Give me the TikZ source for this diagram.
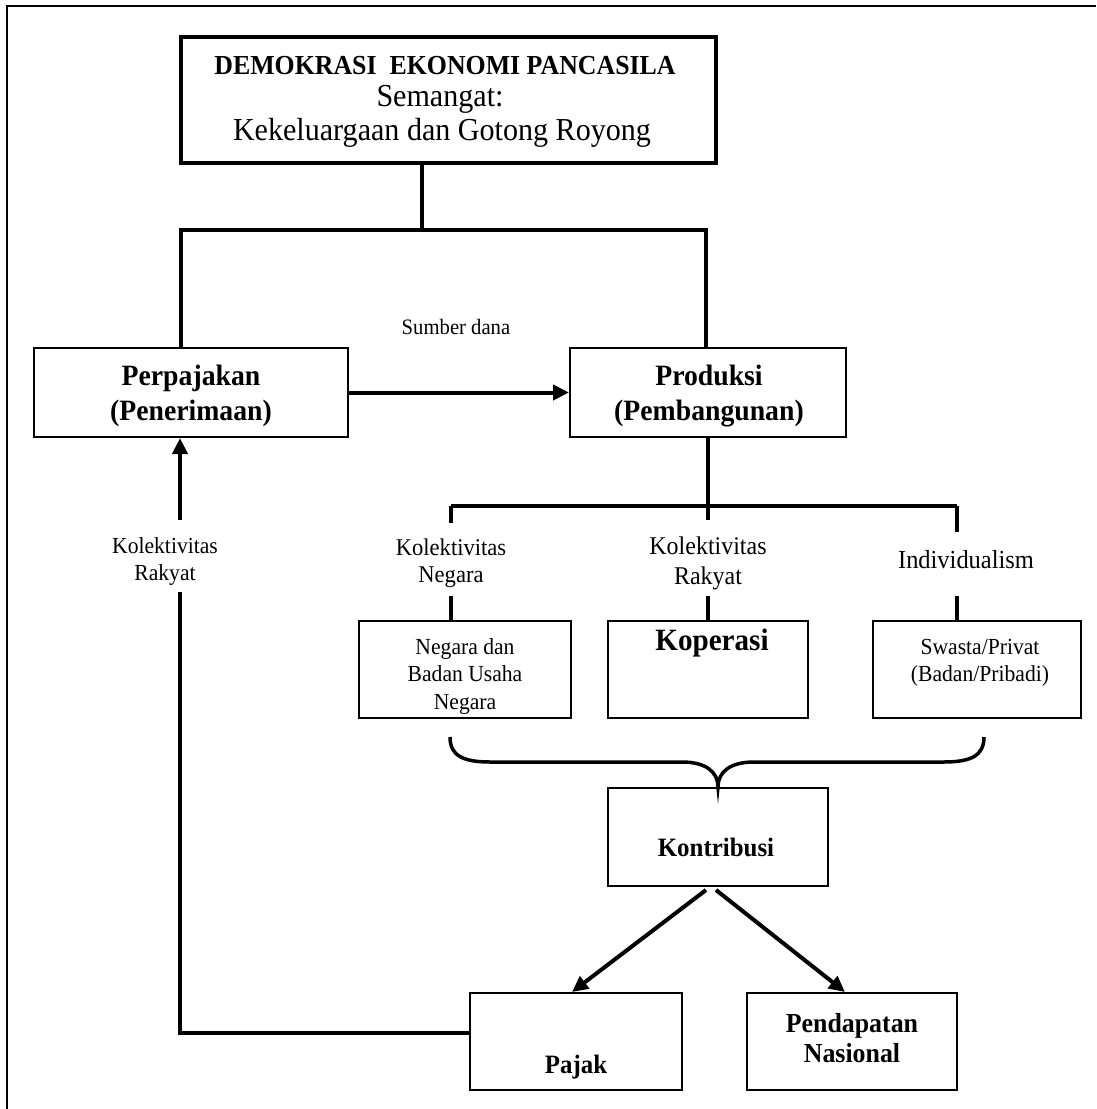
\documentclass[tikz,border=0pt]{standalone}
\usepackage{fontspec}
\setmainfont{Liberation Serif}[FakeStretch=0.94]
\usetikzlibrary{arrows.meta}
\begin{document}
\begin{tikzpicture}[x=1pt,y=-1pt,
  box/.style={draw, line width=2pt, inner sep=0pt},
  conn/.style={line width=4pt},
  arr/.style={line width=4pt, -{Triangle[length=16pt,width=15pt]}},
  txt/.style={inner sep=0pt, align=center},
  fs/.style n args={2}{font=\fontsize{#1}{#2}\selectfont},
  fb/.style n args={2}{font=\fontsize{#1}{#2}\selectfont\bfseries},
]
\useasboundingbox (0,0) rectangle (1096,1109);
\draw[line width=2pt] (7,1109) -- (7,5.5) -- (1096,5.5);

% boxes
\node[box, line width=4.5pt, minimum width=535pt, minimum height=126pt] (top) at (448.5,100) {};
\node[box, minimum width=314pt, minimum height=89pt] (perp) at (191,392.5) {};
\node[box, minimum width=276pt, minimum height=89pt] (prod) at (708,392.5) {};
\node[box, minimum width=212pt, minimum height=97pt] (neg) at (465,669.5) {};
\node[box, minimum width=200pt, minimum height=97pt] (kop) at (708,669.5) {};
\node[box, minimum width=208pt, minimum height=97pt] (swa) at (977,669.5) {};
\node[box, minimum width=220pt, minimum height=98pt] (kon) at (718,837) {};
\node[box, minimum width=212pt, minimum height=97pt] (paj) at (576,1041.5) {};
\node[box, minimum width=210pt, minimum height=97pt] (pen) at (852,1041.5) {};

% texts
\node[txt, fb={27.5}{30}, anchor=base] (t1) at (445,74) {DEMOKRASI\ \ EKONOMI PANCASILA};
\node[txt, fs={32}{33}, anchor=base] (t2) at (440,106) {Semangat:};
\node[txt, fs={32}{33}, anchor=base] (t3) at (442,140) {Kekeluargaan dan Gotong Royong};
\node[txt, fb={29.5}{35}] (tperp) at (191,396) {Perpajakan\\(Penerimaan)};
\node[txt, fb={29.5}{35}] (tprod) at (709,396) {Produksi\\(Pembangunan)};
\node[txt, fs={22}{25}] (tsd) at (456,327) {Sumber dana};
\node[txt, fs={23}{27}] (tkr) at (165,561) {Kolektivitas\\Rakyat};
\node[txt, fs={24}{27}] (tkn) at (451,563) {Kolektivitas\\Negara};
\node[txt, fs={25.5}{30}] (tkr2) at (708,563) {Kolektivitas\\Rakyat};
\node[txt, fs={26}{30}] (tind) at (966,560) {Individualism};
\node[txt, fs={23}{27.5}] (tneg) at (465,676) {Negara dan\\Badan Usaha\\Negara};
\node[txt, fb={31}{33}] (tkop) at (712,643) {Koperasi};
\node[txt, fs={23}{27}] (tswa) at (980,663) {Swasta/Privat\\(Badan/Pribadi)};
\node[txt, fb={26.5}{30}] (tkon) at (716,847) {Kontribusi};
\node[txt, fb={26.5}{30}] (tpaj) at (576,1067) {Pajak};
\node[txt, fb={27.5}{30}] (tpen) at (852,1038) {Pendapatan\\Nasional};

% top connectors
\coordinate (hm) at (422,230);
\coordinate (h1) at (181,230);
\coordinate (h2) at (706,230);
\draw[conn] (hm |- top.south) -- (hm);
\draw[conn] (h1 |- perp.north) -- (h1) -- (h2) -- (h2 |- prod.north);

% sumber dana arrow
\draw[arr] (perp.east) -- (prod.west);

% branch
\coordinate (bL) at (451,506);
\coordinate (bR) at (957,506);
\draw[conn] (bL) -- (bR);
\draw[conn] (prod.south) -- ++(0,82);
\draw[conn] (bL) -- ++(0,17);
\draw[conn] (bR) -- ++(0,26);
\draw[conn] (neg.north -| bL) -- ++(0,-24);
\draw[conn] (kop.north) -- ++(0,-24);
\draw[conn] (swa.north -| bR) -- ++(0,-24);

% brace
\coordinate (brL) at (450,737);
\coordinate (brR) at (984,737);
\draw[line width=3.5pt] (brL) .. controls (450,755) and (462,762) .. (490,762) -- (682,762)
  .. controls (706,762) and (718,772) .. (kon.north)
  .. controls (718,772) and (730,762) .. (754,762) -- (944,762)
  .. controls (972,762) and (984,755) .. (brR);

% kontribusi arrows
\draw[arr] ([xshift=-12pt,yshift=-3pt]kon.south) -- ([xshift=-4pt]paj.north);
\draw[arr] ([xshift=-2pt,yshift=-3pt]kon.south) -- ([xshift=-7pt]pen.north);

% feedback
\coordinate (c1) at (180,1033);
\coordinate (c2) at (180,592);
\coordinate (c3) at (180,520);
\draw[conn] (c1 -| paj.west) -- (c1) -- (c2);
\draw[arr] (c3) -- (c3 |- perp.south);
\end{tikzpicture}
\end{document}
